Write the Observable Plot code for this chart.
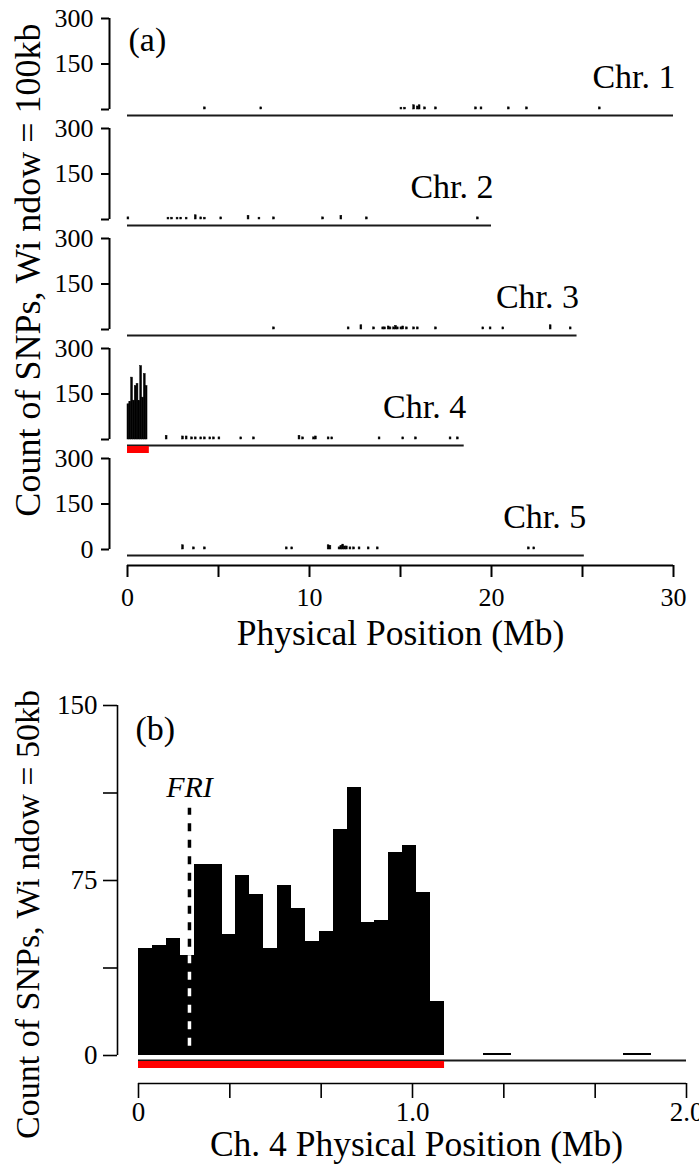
<!DOCTYPE html>
<html>
<head>
<meta charset="utf-8">
<script src="https://cdn.jsdelivr.net/npm/d3@7"></script>
<script src="https://cdn.jsdelivr.net/npm/@observablehq/plot@0.6"></script>
<style>
html, body { margin: 0; padding: 0; background: #fff; }
#chart svg { display: block; }
</style>
</head>
<body>
<div id="chart"></div>
<script>
// ---------- Panel (a): SNP counts in 100 kb windows, all chromosomes ----------
const chrNames = ["Chr. 1", "Chr. 2", "Chr. 3", "Chr. 4", "Chr. 5"];
const chrLengthsMb = [30.0, 20.0, 24.7, 18.5, 25.1];

const chr1Pos   = [4.2, 7.3, 15.0, 15.2, 15.7, 15.9, 16.0, 16.3, 16.9, 19.1, 19.4, 20.9, 21.9, 25.9];
const chr1Count = [7, 7, 6, 6, 14, 10, 14, 7, 7, 7, 7, 7, 7, 7];

const chr2Pos   = [0.0, 2.2, 2.4, 2.7, 2.9, 3.2, 3.7, 4.0, 4.2, 5.1, 6.6, 7.2, 8.0, 10.7, 11.7, 13.1, 19.2];
const chr2Count = [7, 6, 6, 6, 6, 6, 14, 7, 6, 7, 12, 6, 7, 7, 12, 7, 7];

const chr3Pos   = [8.0, 12.1, 12.8, 13.5, 14.0, 14.1, 14.3, 14.4, 14.6, 14.7, 14.8, 15.0, 15.1, 15.3, 15.7, 15.9, 16.9, 19.5, 19.9, 20.6, 23.2, 24.3];
const chr3Count = [7, 7, 14, 7, 7, 7, 10, 7, 7, 12, 7, 7, 10, 7, 7, 7, 7, 7, 7, 7, 14, 7];

const chr4Pos   = [0.0, 0.1, 0.2, 0.3, 0.4, 0.5, 0.6, 0.7, 0.8, 0.9, 1.0,
                   2.1, 3.0, 3.2, 3.5, 3.7, 4.0, 4.2, 4.5, 4.7, 5.0, 6.2, 6.9, 9.4, 9.6, 10.2, 10.3, 11.0, 11.2, 13.8, 15.1, 15.8, 17.7, 18.1];
const chr4Count = [116, 124, 204, 128, 176, 183, 127, 242, 138, 216, 176,
                   12, 10, 10, 7, 7, 7, 7, 7, 7, 7, 7, 7, 12, 7, 7, 10, 7, 7, 7, 7, 7, 7, 7];

const chr5Pos   = [3.0, 3.6, 4.2, 8.7, 9.0, 11.0, 11.1, 11.6, 11.7, 11.8, 11.9, 12.0, 12.2, 12.4, 12.7, 13.2, 13.7, 22.0, 22.3];
const chr5Count = [14, 7, 7, 7, 7, 14, 12, 7, 12, 16, 10, 10, 7, 7, 7, 7, 7, 7, 7];

const windowA = 0.1;             // 100 kb
const redChrA = 4;
const redRegionA = [0, 1.2];     // Mb, highlighted region on Chr. 4
const yTicksA = [0, 150, 300];
const yTickLabelsA = ["", "150", "300"];
const xTicksA = [0, 5, 10, 15, 20, 25, 30];
const xTickLabelsA = ["0", "", "10", "", "20", "", "30"];
const yTitleA = "Count of SNPs, Wi ndow = 100kb";
const xTitleA = "Physical Position (Mb)";

// ---------- Panel (b): Chr. 4, 50 kb windows ----------
const posB   = [0.000, 0.051, 0.102, 0.152, 0.203, 0.254, 0.305, 0.355, 0.406, 0.457, 0.508,
                0.559, 0.609, 0.660, 0.711, 0.762, 0.812, 0.863, 0.914, 0.965, 1.016, 1.066,
                1.26, 1.31, 1.77, 1.82];
const countB = [46, 47, 50, 43, 82, 82, 52, 77, 69, 46, 73,
                63, 49, 53, 97, 115, 57, 58, 87, 90, 70, 23,
                1, 1, 1, 1];
const windowB = 0.0508;          // 50 kb window as drawn
const redRegionB = [0, 1.117];
const friPos = 0.186, friTop = 106, friBase = 4;
const friLabel = "FRI";
const yTicksB = [0, 37.5, 75, 112.5, 150];
const yTickLabelsB = ["0", "", "75", "", "150"];
const xTicksB = [0, 0.3333, 0.6667, 1, 1.3333, 1.6667, 2];
const xTickLabelsB = ["0", "", "", "1.0", "", "", "2.0"];
const yTitleB = "Count of SNPs, Wi ndow = 50kb";
const xTitleB = "Ch. 4 Physical Position (Mb)";

// ---------- build tables ----------
const serif = "'Liberation Serif', 'Times New Roman', serif";
const chrPos = [chr1Pos, chr2Pos, chr3Pos, chr4Pos, chr5Pos];
const chrCount = [chr1Count, chr2Count, chr3Count, chr4Count, chr5Count];
const barsA = [];
chrPos.forEach((arr, i) => arr.forEach((p, j) =>
  barsA.push({chr: i + 1, x1: p, x2: p + windowA, count: chrCount[i][j]})));
const chrTable = chrNames.map((name, i) => ({chr: i + 1, name, len: chrLengthsMb[i]}));
const redA = [{chr: redChrA, x1: redRegionA[0], x2: redRegionA[1]}];
const firstChr = 1, lastChr = chrNames.length, midChr = 3;

const plotA = Plot.plot({
  width: 699, height: 655,
  marginTop: 16, marginBottom: 103, marginLeft: 127, marginRight: 26,
  style: {fontFamily: serif, color: "black", background: "white", overflow: "visible"},
  x: {domain: [xTicksA[0], xTicksA[xTicksA.length - 1]]},
  y: {domain: [yTicksA[0], yTicksA[yTicksA.length - 1]]},
  fy: {domain: chrTable.map(d => d.chr), axis: null, paddingInner: 0.17, paddingOuter: 0},
  marks: [
    Plot.rectY(barsA, {x1: "x1", x2: "x2", y: "count", fy: "chr", fill: "black", stroke: "black", strokeWidth: 0.5}),
    Plot.ruleY(chrTable, {fy: "chr", y: () => 0, x1: () => 0, x2: "len", dy: 6, stroke: "#1a1a1a", strokeWidth: 2}),
    Plot.ruleY(redA, {fy: "chr", y: () => 0, x1: "x1", x2: "x2", dy: 10, stroke: "#ff0000", strokeWidth: 7}),
    Plot.text(chrTable, {fy: "chr", x: "len", frameAnchor: "bottom", text: "name", textAnchor: "end",
      lineAnchor: "middle", dx: 2, dy: -32, fontSize: 34, fontFamily: serif}),
    // y axis (bracket style)
    Plot.ruleX([0], {y1: yTicksA[0], y2: yTicksA[yTicksA.length - 1], dx: -18, strokeWidth: 2}),
    Plot.axisY({ticks: yTicksA, tickFormat: d => yTickLabelsA[yTicksA.indexOf(d)], dx: -18,
      tickSize: 8, tickPadding: 8, fontSize: 26, fontFamily: serif, strokeWidth: 2, label: null}),
    Plot.text([{chr: lastChr, t: "0"}], {fy: "chr", frameAnchor: "bottom-left", text: "t", textAnchor: "end",
      lineAnchor: "middle", dx: -34, fontSize: 26, fontFamily: serif}),
    // x axis
    Plot.ruleY([{chr: lastChr}], {fy: "chr", y: () => 0, x1: () => xTicksA[0], x2: () => xTicksA[xTicksA.length - 1],
      dy: 16, strokeWidth: 2}),
    Plot.axisX({ticks: xTicksA, tickFormat: d => xTickLabelsA[xTicksA.indexOf(d)], dy: 16,
      tickSize: 12, tickPadding: 10, fontSize: 26, fontFamily: serif, strokeWidth: 2, label: null}),
    // titles
    Plot.text([{chr: firstChr, t: "(a)"}], {fy: "chr", frameAnchor: "top-left", text: "t", textAnchor: "start",
      lineAnchor: "middle", dx: 1, dy: 22, fontSize: 34, fontFamily: serif}),
    Plot.text([{chr: midChr, t: yTitleA}], {fy: "chr", frameAnchor: "left", text: "t", rotate: -90,
      textAnchor: "middle", lineAnchor: "middle", dx: -99, dy: -14, fontSize: 36, fontFamily: serif}),
    Plot.text([{chr: lastChr, t: xTitleA}], {fy: "chr", frameAnchor: "bottom", text: "t",
      textAnchor: "middle", lineAnchor: "middle", dy: 84, fontSize: 35.5, fontFamily: serif})
  ]
});

const barsB = posB.map((p, i) => ({x1: p, x2: p + windowB, count: countB[i]}));
const friIdx = posB.findIndex(p => friPos >= p && friPos < p + windowB);

const plotB = Plot.plot({
  width: 699, height: 516,
  marginTop: 50, marginBottom: 116, marginLeft: 138, marginRight: 13,
  style: {fontFamily: serif, color: "black", background: "white", overflow: "visible"},
  x: {domain: [xTicksB[0], xTicksB[xTicksB.length - 1]]},
  y: {domain: [yTicksB[0], yTicksB[yTicksB.length - 1]]},
  marks: [
    Plot.rectY(barsB, {x1: "x1", x2: "x2", y: "count", fill: "black", shapeRendering: "crispEdges"}),
    Plot.ruleY([0], {x1: () => xTicksB[0], x2: () => xTicksB[xTicksB.length - 1], dy: 5, stroke: "#1a1a1a", strokeWidth: 2}),
    Plot.ruleY([redRegionB], {y: () => 0, x1: d => d[0], x2: d => d[1], dy: 9, stroke: "#ff0000", strokeWidth: 7}),
    Plot.ruleX([friPos], {y1: () => friBase, y2: () => friTop, stroke: "black", strokeWidth: 3.5, strokeDasharray: "8,8.5"}),
    Plot.ruleX([friPos], {y1: () => friBase, y2: () => countB[friIdx], stroke: "white", strokeWidth: 3.5, strokeDasharray: "8,8.5"}),
    Plot.text([friPos], {x: d => d, y: () => friTop, text: () => friLabel, fontStyle: "italic",
      textAnchor: "middle", lineAnchor: "middle", dy: -21, fontSize: 30, fontFamily: serif}),
    // y axis
    Plot.ruleX([0], {y1: yTicksB[0], y2: yTicksB[yTicksB.length - 1], dx: -21, strokeWidth: 1.6}),
    Plot.axisY({ticks: yTicksB, tickFormat: d => yTickLabelsB[yTicksB.indexOf(d)], dx: -21,
      tickSize: 14, tickPadding: 6, fontSize: 27, fontFamily: serif, strokeWidth: 1.6, label: null}),
    // x axis
    Plot.ruleY([0], {x1: () => xTicksB[0], x2: () => xTicksB[xTicksB.length - 1], dy: 28, strokeWidth: 1.6}),
    Plot.axisX({ticks: xTicksB, tickFormat: d => xTickLabelsB[xTicksB.indexOf(d)], dy: 28,
      tickSize: 15, tickPadding: 3, fontSize: 27, fontFamily: serif, strokeWidth: 1.6, label: null}),
    // titles
    Plot.text(["(b)"], {frameAnchor: "top-left", textAnchor: "start", lineAnchor: "middle", dx: -3, dy: 24, fontSize: 34, fontFamily: serif}),
    Plot.text([yTitleB], {frameAnchor: "left", rotate: -90, textAnchor: "middle", lineAnchor: "middle",
      dx: -110, dy: 34, fontSize: 34, fontFamily: serif}),
    Plot.text([xTitleB], {frameAnchor: "bottom", textAnchor: "middle", lineAnchor: "middle", dx: 4, dy: 89, fontSize: 35.5, fontFamily: serif})
  ]
});

const chart = document.getElementById("chart");
chart.appendChild(plotA);
chart.appendChild(plotB);
</script>
</body>
</html>
